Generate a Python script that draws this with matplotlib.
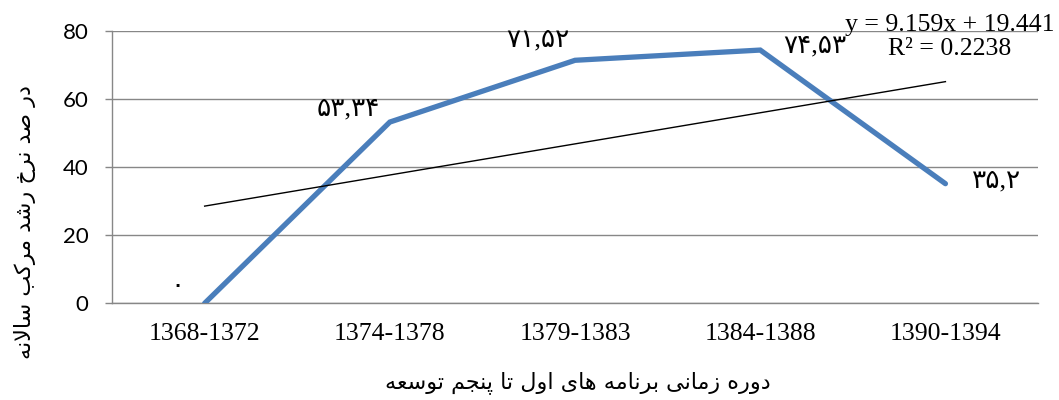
import numpy as np
import matplotlib
matplotlib.use("Agg")
import matplotlib.pyplot as plt

# Development plan periods and compound annual growth rate (%)
periods = ["1368-1372", "1374-1378", "1379-1383", "1384-1388", "1390-1394"]
growth = [0.0, 53.34, 71.52, 74.53, 35.2]
growth_labels = ["۰", "۵۳,۳۴", "۷۱,۵۲", "۷۴,۵۳", "۳۵,۲"]

# Linear trend (least squares) as reported on the chart
slope = 9.159
intercept = 19.441
r_squared = 0.2238

x_title = "دوره زمانی برنامه های اول تا پنجم توسعه"
y_title = "در صد نرخ رشد مرکب سالانه"

# label offsets in pixels (dx, dy) relative to each point
label_offsets = [(-27, 16), (-42, 13), (-37, 20), (55, 4), (51, 2)]

# --- minimal Persian shaping: contextual forms + right-to-left order ---
FORMS = {
    "ا": ("\uFE8D", "\uFE8E", None, None),
    "ب": ("\uFE8F", "\uFE90", "\uFE91", "\uFE92"),
    "پ": ("\uFB56", "\uFB57", "\uFB58", "\uFB59"),
    "ت": ("\uFE95", "\uFE96", "\uFE97", "\uFE98"),
    "ج": ("\uFE9D", "\uFE9E", "\uFE9F", "\uFEA0"),
    "خ": ("\uFEA5", "\uFEA6", "\uFEA7", "\uFEA8"),
    "د": ("\uFEA9", "\uFEAA", None, None),
    "ر": ("\uFEAD", "\uFEAE", None, None),
    "ز": ("\uFEAF", "\uFEB0", None, None),
    "س": ("\uFEB1", "\uFEB2", "\uFEB3", "\uFEB4"),
    "ش": ("\uFEB5", "\uFEB6", "\uFEB7", "\uFEB8"),
    "ص": ("\uFEB9", "\uFEBA", "\uFEBB", "\uFEBC"),
    "ع": ("\uFEC9", "\uFECA", "\uFECB", "\uFECC"),
    "ک": ("\uFB8E", "\uFB8F", "\uFB90", "\uFB91"),
    "ل": ("\uFEDD", "\uFEDE", "\uFEDF", "\uFEE0"),
    "م": ("\uFEE1", "\uFEE2", "\uFEE3", "\uFEE4"),
    "ن": ("\uFEE5", "\uFEE6", "\uFEE7", "\uFEE8"),
    "ه": ("\uFEE9", "\uFEEA", "\uFEEB", "\uFEEC"),
    "و": ("\uFEED", "\uFEEE", None, None),
    "ی": ("\uFBFC", "\uFBFD", "\uFBFE", "\uFBFF"),
}


def connects_forward(c):
    return c in FORMS and FORMS[c][2] is not None


def shape(text):
    out = []
    i = 0
    n = len(text)
    while i < n:
        c = text[i]
        if c not in FORMS:
            out.append(c)
            i += 1
            continue
        prev = text[i - 1] if i > 0 else ""
        joined_prev = connects_forward(prev)
        if c == "ل" and i + 1 < n and text[i + 1] == "ا":
            out.append("\uFEFC" if joined_prev else "\uFEFB")
            i += 2
            continue
        nxt = text[i + 1] if i + 1 < n else ""
        joined_next = connects_forward(c) and nxt in FORMS
        iso, fin, ini, med = FORMS[c]
        if joined_prev and joined_next:
            out.append(med)
        elif joined_prev:
            out.append(fin)
        elif joined_next:
            out.append(ini)
        else:
            out.append(iso)
        i += 1
    return "".join(reversed(out))


fig = plt.figure(figsize=(10.59, 4.0), dpi=100)
ax = fig.add_axes([0.1058, 0.2418, 0.8744, 0.6795])

x = np.arange(1, len(periods) + 1)
grid_color = "#878787"

ax.set_xlim(0.5, len(periods) + 0.5)
ax.set_ylim(0, 80)
ax.set_yticks([0, 20, 40, 60, 80])
ax.set_xticks(x)
ax.set_xticklabels(periods, fontfamily="Liberation Serif", fontsize=18.5)
for lbl in ax.get_yticklabels():
    lbl.set_fontfamily("Lato")
    lbl.set_fontsize(16)

ax.yaxis.grid(True, color=grid_color, linewidth=1.0)
ax.set_axisbelow(True)
for side in ["top", "right"]:
    ax.spines[side].set_visible(False)
for side in ["left", "bottom"]:
    ax.spines[side].set_color(grid_color)
    ax.spines[side].set_linewidth(1.0)
ax.tick_params(axis="y", length=5, width=1.0, color=grid_color, pad=12, labelcolor="black")
ax.tick_params(axis="x", length=0, pad=14, labelcolor="black")

# growth rate series
ax.plot(x, growth, color="#4a7ebb", linewidth=3.8, solid_capstyle="round",
        solid_joinstyle="miter", zorder=3)

# linear trend line
trend = slope * x + intercept
ax.plot([x[0], x[-1]], [trend[0], trend[-1]], color="black", linewidth=1.0, zorder=4)

for xi, yi, txt, (dx, dy) in zip(x, growth, growth_labels, label_offsets):
    ax.annotate(txt, (xi, yi), xytext=(dx * 0.72, dy * 0.72), textcoords="offset points",
                ha="center", va="center", fontsize=19,
                family=["Liberation Serif", "DejaVu Sans"], zorder=5)

eq_text = f"y = {slope}x + {intercept}\nR² = {r_squared}"
fig.text(950 / 1059, 1 - 37 / 400, eq_text, ha="center", va="center",
         fontfamily="Liberation Serif", fontsize=18.5, linespacing=1.12)

fig.text(578 / 1059, 1 - 383 / 400, shape(x_title), ha="center", va="center",
         family=["DejaVu Sans"], fontsize=16)
fig.text(25 / 1059, 1 - 222 / 400, shape(y_title), ha="center", va="center",
         rotation=90, family=["DejaVu Sans"], fontsize=16)

fig.savefig("out.png", dpi=100)
